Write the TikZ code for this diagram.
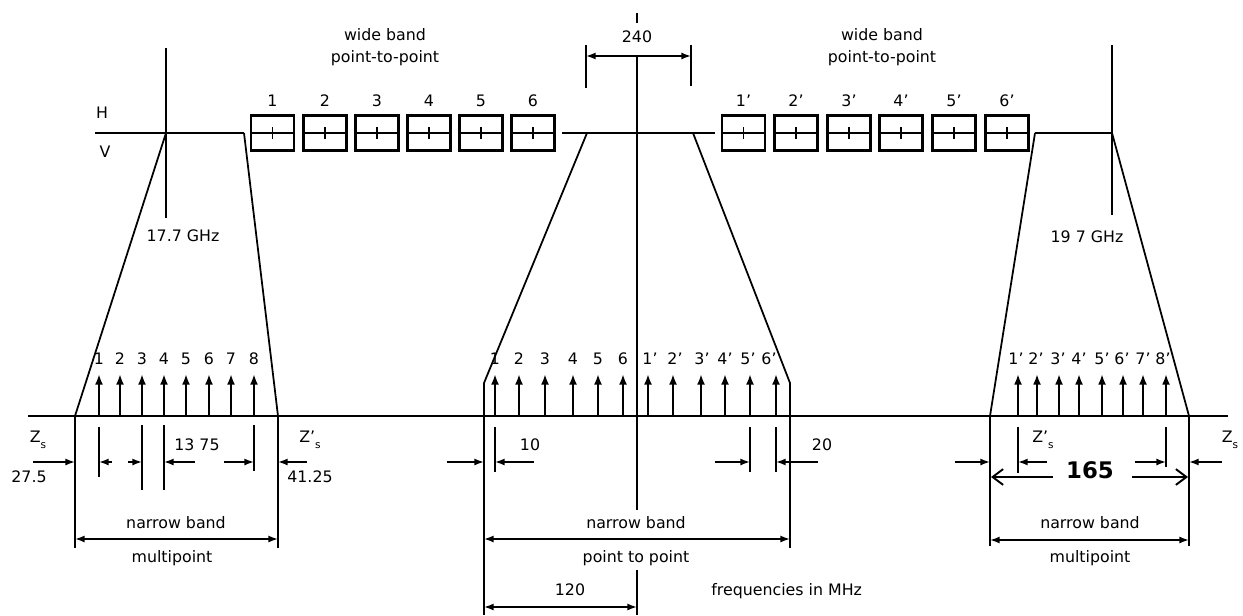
\documentclass[tikz,border=0pt]{standalone}
\usepackage{fontspec}
\setmainfont{DejaVu Sans}
\usetikzlibrary{arrows.meta}
\newcommand{\subs}[1]{\raisebox{-0.7ex}{\fontsize{6}{6}\selectfont #1}}
\begin{document}
\begin{tikzpicture}[x=0.02cm,y=-0.02cm,
  every node/.style={font=\fontsize{9}{10}\selectfont, inner sep=0pt},
  heavy/.style={line width=1.4pt},
  slant/.style={line width=1pt},
  thinl/.style={line width=0.9pt},
  dimarr/.style={line width=0.9pt,-{Latex[length=5.5pt,width=4pt]}},
  dimboth/.style={line width=0.9pt,{Latex[length=5.5pt,width=4pt]}-{Latex[length=5.5pt,width=4pt]}},
  carrier/.style={line width=1.2pt,-{Latex[length=6pt,width=4.5pt]}},
  chbox/.style={draw,line width=1.3pt,minimum width=0.86cm,minimum height=0.7cm,inner sep=0pt},
  bigarr/.style={line width=1.1pt,-{Straight Barb[length=6pt,width=9pt,line width=1.1pt]}}
]
\useasboundingbox (0,0) rectangle (1243,615);

% ---------- key points ----------
\coordinate (hv0) at (95,133);
\coordinate (Lt1) at (166,133); \coordinate (Lt2) at (244,133);
\coordinate (Lb1) at (75,416);  \coordinate (Lb2) at (278,416);
\coordinate (Ch1) at (562,133); \coordinate (Ch2) at (715,133);
\coordinate (Ct1) at (587,133); \coordinate (Ct2) at (693,133);
\coordinate (Cm1) at (484,383); \coordinate (Cm2) at (790,383);
\coordinate (Cb1) at (484,416); \coordinate (Cb2) at (790,416);
\coordinate (Rt1) at (1035,133); \coordinate (Rt2) at (1112,133);
\coordinate (Rb1) at (990,416);  \coordinate (Rb2) at (1189,416);
\coordinate (base0) at (28,416); \coordinate (base1) at (1228,416);

% ---------- H/V line and trapezoids ----------
\draw[heavy] (hv0) -- (Lt1) -- (Lt2);
\draw[slant] (Lt1) -- (Lb1);
\draw[slant] (Lt2) -- (Lb2);
\draw[heavy] (Ch1) -- (Ch2);
\draw[slant] (Ct1) -- (Cm1) -- (Cb1);
\draw[slant] (Ct2) -- (Cm2) -- (Cb2);
\draw[heavy] (Rt1) -- (Rt2);
\draw[slant] (Rt1) -- (Rb1);
\draw[slant] (Rt2) -- (Rb2);
\draw[heavy] (base0) -- (base1);

\node (H) at (102,113) {H};
\node (V) at (105,152) {V};

% ---------- verticals ----------
\draw[thinl] (166,48) -- (166,218);
\draw[thinl] (1112,45) -- (1112,215);
\draw[thinl] (637,13) -- (637,23);
\draw[thinl] (637,56) -- (637,510);
\draw[thinl] (637,570) -- (637,615);
\node (ghzL) at (183,236) {17.7 GHz};
\node (ghzR) at (1087,237) {19 7 GHz};

% ---------- 240 ----------
\coordinate (d240a) at (586,56); \coordinate (d240b) at (691,56);
\draw[thinl] (586,45) -- (586,88);
\draw[thinl] (691,45) -- (691,86);
\draw[dimboth] (d240a) -- (d240b);
\node (t240) at (637,37) {240};

% ---------- wide band labels ----------
\node (wbL1) at (385,35) {wide band};
\node (wbL2) at (385,58) {point-to-point};
\node (wbR1) at (882,35) {wide band};
\node (wbR2) at (882,58) {point-to-point};

% ---------- channel boxes ----------
\foreach \x/\l [count=\i] in {272.5/1,325/2,377/3,429/4,481/5,533/6}{
  \node[chbox] (b\i) at (\x,133) {};
  \draw[heavy] (b\i.west) -- (b\i.east);
  \draw[thinl] ([yshift=0.12cm]b\i.center) -- ([yshift=-0.12cm]b\i.center);
  \node (bl\i) at (\x,101) {\l};
}
\foreach \x/\l [count=\i] in {743.5/1,796/2,849/3,901/4,954/5,1007/6}{
  \node[chbox] (c\i) at (\x,133) {};
  \draw[heavy] (c\i.west) -- (c\i.east);
  \draw[thinl] ([yshift=0.12cm]c\i.center) -- ([yshift=-0.12cm]c\i.center);
  \node (cl\i) at (\x,101) {\l'};
}

% ---------- carriers ----------
\foreach \x/\l in {99/1,120/2,142/3,164/4,186/5,209/6,231/7,254/8}{
  \draw[carrier] (\x,416) -- (\x,374);
  \node (la\l) at (\x,359) {\l};
}
\foreach \x/\l in {495/1,519/2,545/3,573/4,598/5,623/6}{
  \draw[carrier] (\x,416) -- (\x,374);
  \node (ma\l) at (\x,359) {\l};
}
\foreach \x/\tx/\l in {648/650/1,673/675/2,701/702/3,725/725/4,750/748/5,776/769/6}{
  \draw[carrier] (\x,416) -- (\x,374);
  \node (mb\l) at (\tx,359) {\l'};
}
\foreach \x/\tx/\l in {1018/1016/1,1037/1036/2,1059/1058/3,1079/1079/4,1102/1102/5,1123/1122/6,1143/1143/7,1166/1163/8}{
  \draw[carrier] (\x,416) -- (\x,374);
  \node (ra\l) at (\tx,359) {\l'};
}

% ---------- left group dimensions ----------
\draw[thinl] (Lb1) -- (75,548);
\draw[thinl] (Lb2) -- (278,548);
\draw[dimboth] (75,539) -- (278,539);
\node (nbL) at (176,523) {narrow band};
\node (mpL) at (172,558) {multipoint};
\node (zsL) at (38,440) {Z\subs{s}};
\node (v275) at (29,477) {27.5};
\draw[dimarr] (33,462) -- (75,462);
\draw[thinl] (99,427) -- (99,477);
\draw[dimarr] (112,462) -- (99,462);
\draw[dimarr] (128,462) -- (142,462);
\draw[thinl] (142,425) -- (142,490);
\draw[thinl] (164,425) -- (164,490);
\draw[dimarr] (195,462) -- (164,462);
\node (v1375) at (197,445) {13 75};
\draw[dimarr] (224,462) -- (254,462);
\draw[thinl] (254,425) -- (254,471);
\node (zspL) at (310,440) {Z'\subs{s}};
\node (v4125) at (310,477) {41.25};
\draw[dimarr] (307,462) -- (278,462);

% ---------- centre group dimensions ----------
\draw[thinl] (Cb1) -- (484,615);
\draw[thinl] (Cb2) -- (790,548);
\draw[thinl] (495,427) -- (495,472);
\draw[dimarr] (447,462) -- (484,462);
\draw[dimarr] (534,462) -- (495,462);
\node (v10) at (530,445) {10};
\draw[thinl] (750,427) -- (750,472);
\draw[thinl] (776,427) -- (776,472);
\draw[dimarr] (715,462) -- (750,462);
\draw[dimarr] (818,462) -- (776,462);
\node (v20) at (822,445) {20};
\draw[dimboth] (484,539) -- (790,539);
\node (nbC) at (636,523) {narrow band};
\node (ppC) at (636,558) {point to point};
\draw[dimboth] (484,607) -- (637,607);
\node (v120) at (570,590) {120};
\node[anchor=west] (freq) at (711,591) {frequencies in MHz};

% ---------- right group dimensions ----------
\draw[thinl] (Rb1) -- (990,546);
\draw[thinl] (Rb2) -- (1189,546);
\draw[thinl] (1018,427) -- (1018,473);
\draw[thinl] (1166,427) -- (1166,467);
\draw[dimarr] (955,462) -- (990,462);
\draw[dimarr] (1047,462) -- (1018,462);
\draw[dimarr] (1135,462) -- (1166,462);
\draw[dimarr] (1222,462) -- (1189,462);
\node (zspR) at (1043,440) {Z'\subs{s}};
\node (zsR) at (1230,440) {Z\subs{s}};
\node[font=\fontsize{13}{14}\selectfont\bfseries] (v165) at (1090,470) {165};
\draw[bigarr] (1053,477) -- (991,477);
\draw[bigarr] (1132,477) -- (1188,477);
\draw[dimboth] (990,540) -- (1189,540);
\node (nbR) at (1090,523) {narrow band};
\node (mpR) at (1090,558) {multipoint};
\end{tikzpicture}
\end{document}
